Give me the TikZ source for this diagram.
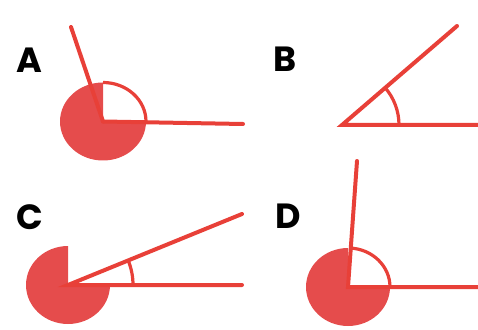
\documentclass[tikz,border=0pt]{standalone}
\usepackage{fontspec}
\setmainfont{Poppins}
\usetikzlibrary{calc}
\definecolor{armred}{RGB}{232,64,56}
\definecolor{fillred}{RGB}{229,76,76}
\begin{document}
\begin{tikzpicture}[x=1pt,y=1pt,
  arm/.style={draw=armred,line width=4pt,line cap=round},
  arcline/.style={draw=armred,line width=3.2pt},
  sector/.style={fill=fillred},
  lab/.style={font=\bfseries\fontsize{35}{35}\selectfont,text=black,inner sep=0pt}]
\useasboundingbox (0,0) rectangle (478,329);
% Panel A
\node[lab] (la) at (29,269) {A};
\coordinate (va) at (103,207.5);
\coordinate (ha) at (243,205);
\coordinate (ua) at (71,302);
\fill[sector] (va) -- ++(0,39) arc[start angle=90,end angle=360,x radius=43,y radius=39] -- cycle;
\draw[arcline] ($(va)+(43,0)$) arc[start angle=0,end angle=90,x radius=43,y radius=39];
\draw[arm] (va) -- (ha);
\draw[arm] (va) -- (ua);
% Panel B
\node[lab] (lb) at (285,270) {B};
\coordinate (vb) at (342,204);
\coordinate (hb) at (480,204);
\coordinate (ub) at (457,303);
\draw[arcline] ($(vb)+(57,0)$) arc[start angle=0,end angle=41,radius=57];
\draw[arm] (hb) -- (vb) -- (ub);
% Panel C
\node[lab] (lc) at (30,112) {C};
\coordinate (vc) at (68,44);
\coordinate (hc) at (242,44);
\coordinate (uc) at (242,115);
\fill[sector] (vc) -- ++(0,39) arc[start angle=90,end angle=360,x radius=42,y radius=39] -- cycle;
\draw[arcline] ($(vc)+(65,0)$) arc[start angle=0,end angle=22,radius=65];
\draw[arm] (hc) -- (vc) -- (uc);
% Panel D
\node[lab] (ld) at (288,113) {D};
\coordinate (vd) at (348,42);
\coordinate (hd) at (480,42);
\coordinate (ud) at (357,168);
\fill[sector] (vd) -- ++(0,39) arc[start angle=90,end angle=360,x radius=42,y radius=39] -- cycle;
\draw[arcline] ($(vd)+(42,0)$) arc[start angle=0,end angle=88,x radius=42,y radius=39];
\draw[arm] (hd) -- (vd) -- (ud);
\end{tikzpicture}
\end{document}
